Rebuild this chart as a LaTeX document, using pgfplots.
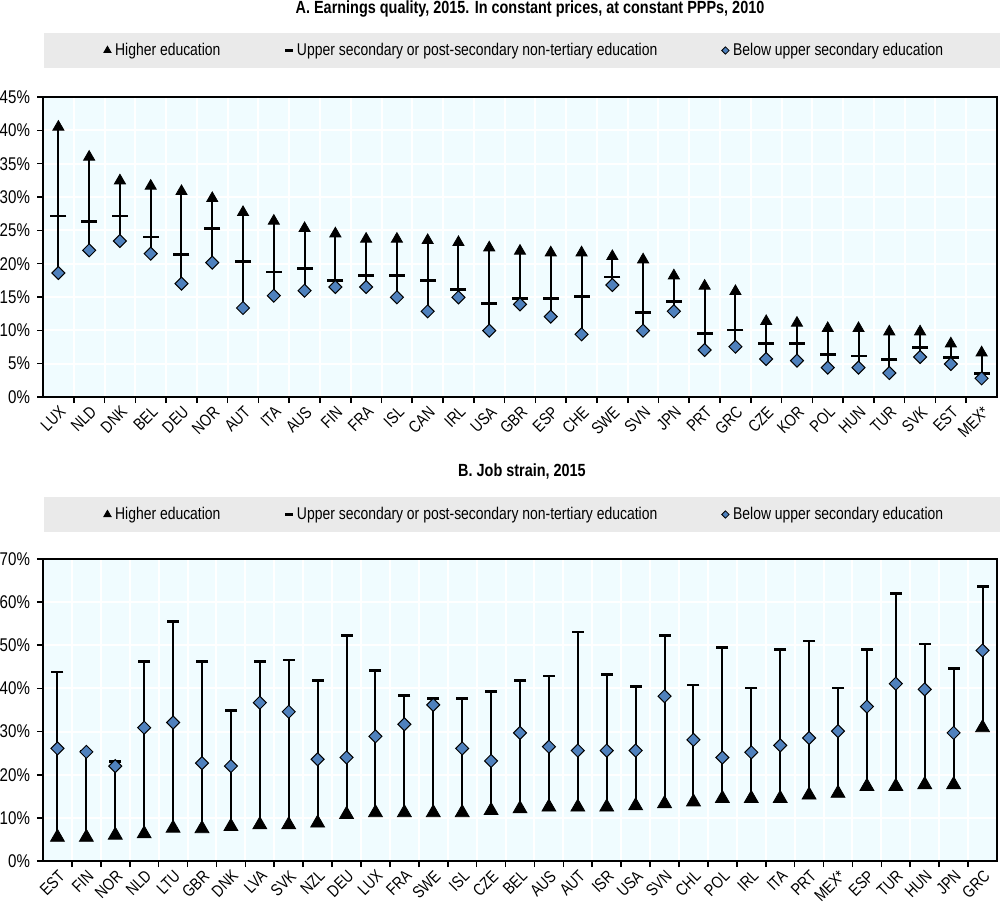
\documentclass[border=0pt]{standalone}
\usepackage{pgfplots}
\pgfplotsset{compat=1.18}
\usepackage{pgfplotstable}
\usepackage{fontspec}
\setmainfont{Liberation Sans}[FakeStretch=0.82]
\definecolor{bgc}{RGB}{240,252,255}
\definecolor{dia}{RGB}{79,129,189}
\definecolor{leg}{RGB}{234,234,234}

% x  higher  upper-secondary  below-upper-secondary
\pgfplotstableread{
x tri dash dia
0 40.5 27.15 18.6
1 36.0 26.35 22.0
2 32.45 27.15 23.4
3 31.65 24.0 21.5
4 30.85 21.35 17.0
5 29.8 25.3 20.15
6 27.7 20.35 13.35
7 26.4 18.75 15.2
8 25.3 19.3 15.95
9 24.5 17.45 16.5
10 23.7 18.25 16.5
11 23.7 18.25 14.95
12 23.5 17.45 12.85
13 23.2 16.1 14.95
14 22.4 14.0 9.95
15 21.9 14.8 13.9
16 21.65 14.8 12.05
17 21.65 15.1 9.4
18 21.1 18.0 16.8
19 20.6 12.7 9.95
20 18.2 14.3 12.85
21 16.65 9.55 7.05
22 15.85 10.05 7.55
23 11.35 8.0 5.7
24 11.1 8.0 5.45
25 10.3 6.4 4.4
26 10.3 6.15 4.4
27 9.8 5.6 3.6
28 9.8 7.45 6.0
29 8.0 5.9 4.95
30 6.65 3.5 2.8
}\dataA

\pgfplotstableread{
x tri dash dia
0 5.5 43.8 26.1
1 5.5 25.5 25.3
2 6.0 23.1 22.0
3 6.3 46.2 30.9
4 7.6 55.5 32.1
5 7.5 46.2 22.7
6 8.0 34.8 22.0
7 8.4 46.2 36.7
8 8.4 46.6 34.6
9 8.8 41.8 23.6
10 10.8 52.3 24.0
11 11.2 44.2 28.9
12 11.2 38.4 31.7
13 11.2 37.6 36.2
14 11.2 37.6 26.1
15 11.7 39.3 23.2
16 12.1 41.8 29.7
17 12.5 42.9 26.5
18 12.5 53.1 25.6
19 12.5 43.3 25.6
20 12.8 40.5 25.6
21 13.3 52.3 38.2
22 13.7 40.8 28.1
23 14.5 49.4 24.0
24 14.5 40.1 25.2
25 14.5 49.0 26.8
26 15.3 51.0 28.5
27 15.7 40.1 30.1
28 17.3 49.0 35.8
29 17.3 62.0 41.1
30 17.7 50.3 39.8
31 17.7 44.6 29.7
32 30.9 63.7 48.8
}\dataB

\pgfplotsset{
  panel/.style={
    scale only axis,
    width=477pt,
    anchor=south west,
    ymin=0,
    xtick=data,
    major x tick style={draw=none},
    xtick pos=lower, ytick pos=left,
    tick align=outside,
    major tick length=3pt, minor tick length=3pt,
    xminorgrids, ymajorgrids,
    grid style={white, line width=1pt},
    minor grid style={white, line width=1pt},
    axis background/.style={fill=bgc},
    axis line style={line width=0.9pt},
    every tick/.style={black, line width=0.8pt},
    /pgf/number format/assume math mode=true,
    yticklabel={\pgfmathprintnumber{\tick}\%},
    yticklabel style={font=\fontsize{9.2}{10}\selectfont},
    xticklabel style={font=\fontsize{8.4}{10}\selectfont, rotate=45, anchor=north east, inner sep=0.6pt, yshift=0pt},
    legend columns=3,
    legend style={draw=none, fill=none, font=\fontsize{8.5}{10}\selectfont,
      /tikz/every even column/.append style={column sep=30.25pt}},
    legend cell align=left,
    legend image code/.code={\draw[#1] plot coordinates {(2.5pt,0pt)};},
  }
}

\begin{document}
\begin{tikzpicture}
\useasboundingbox (0,0) rectangle (500pt,450.5pt);
% legend backgrounds
\fill[leg] (22pt,416.5pt) rectangle (500pt,434pt);
\fill[leg] (22pt,184.5pt) rectangle (500pt,202pt);
% titles
\node[font=\bfseries\fontsize{8.8}{10}\selectfont] at (265pt,446pt)
  {A. Earnings quality, 2015. In constant prices, at constant PPPs, 2010};
\node[font=\bfseries\fontsize{8.8}{10}\selectfont] at (261pt,215pt)
  {B. Job strain, 2015};

\begin{axis}[panel,
  at={(21.5pt,252pt)}, height=150pt,
  xmin=-0.5, xmax=30.5, ymax=45, ytick={0,5,...,45},
  minor xtick={0.5,1.5,...,29.5},
  xticklabels={LUX,NLD,DNK,BEL,DEU,NOR,AUT,ITA,AUS,FIN,FRA,ISL,CAN,IRL,USA,GBR,ESP,CHE,SWE,SVN,JPN,PRT,GRC,CZE,KOR,POL,HUN,TUR,SVK,EST,MEX*},
  legend style={at={(0.5,1)}, anchor=center, yshift=23.25pt, xshift=2.75pt},
]
\addlegendimage{only marks, mark=triangle*, mark size=2.1pt, black}
\addlegendentry{Higher education}
\addlegendimage{only marks, mark=-, mark size=2pt, black, mark options={line width=1.4pt}}
\addlegendentry{Upper secondary or post-secondary non-tertiary education}
\addlegendimage{only marks, mark=square*, mark size=1.3pt, mark options={rotate=45, fill=dia, draw=black, line width=0.4pt}}
\addlegendentry{Below upper secondary education}

\addplot[forget plot, draw=none, mark=none,
  error bars/.cd, y dir=minus, y explicit, error mark=none,
  error bar style={draw=black, line width=1pt}]
  table[x=x, y=tri, y error minus expr=\thisrow{tri}-\thisrow{dia}] {\dataA};
\addplot[forget plot, only marks, mark=-, mark size=4pt, black, mark options={line width=1.4pt}]
  table[x=x, y=dash] {\dataA};
\addplot[forget plot, only marks, mark=square*, mark size=2.3pt, mark options={rotate=45, fill=dia, draw=black, line width=0.5pt}]
  table[x=x, y=dia] {\dataA};
\addplot[forget plot, only marks, mark=triangle*, mark size=3.2pt, black]
  table[x=x, y=tri] {\dataA};
\end{axis}

\begin{axis}[panel,
  at={(21.5pt,20pt)}, height=151pt,
  xmin=-0.5, xmax=32.5, ymax=70, ytick={0,10,...,70},
  minor xtick={0.5,1.5,...,31.5},
  xticklabels={EST,FIN,NOR,NLD,LTU,GBR,DNK,LVA,SVK,NZL,DEU,LUX,FRA,SWE,ISL,CZE,BEL,AUS,AUT,ISR,USA,SVN,CHL,POL,IRL,ITA,PRT,MEX*,ESP,TUR,HUN,JPN,GRC},
  legend style={at={(0.5,1)}, anchor=center, yshift=22.25pt, xshift=2.75pt},
]
\addlegendimage{only marks, mark=triangle*, mark size=2.1pt, black}
\addlegendentry{Higher education}
\addlegendimage{only marks, mark=-, mark size=2pt, black, mark options={line width=1.4pt}}
\addlegendentry{Upper secondary or post-secondary non-tertiary education}
\addlegendimage{only marks, mark=square*, mark size=1.3pt, mark options={rotate=45, fill=dia, draw=black, line width=0.4pt}}
\addlegendentry{Below upper secondary education}

\addplot[forget plot, draw=none, mark=none,
  error bars/.cd, y dir=minus, y explicit, error mark=none,
  error bar style={draw=black, line width=1pt}]
  table[x=x, y=dash, y error minus expr=\thisrow{dash}-\thisrow{tri}] {\dataB};
\addplot[forget plot, only marks, mark=-, mark size=3pt, black, mark options={line width=1.4pt}]
  table[x=x, y=dash] {\dataB};
\addplot[forget plot, only marks, mark=square*, mark size=2.3pt, mark options={rotate=45, fill=dia, draw=black, line width=0.5pt}]
  table[x=x, y=dia] {\dataB};
\addplot[forget plot, only marks, mark=triangle*, mark size=4pt, black]
  table[x=x, y=tri] {\dataB};
\end{axis}
\end{tikzpicture}
\end{document}
